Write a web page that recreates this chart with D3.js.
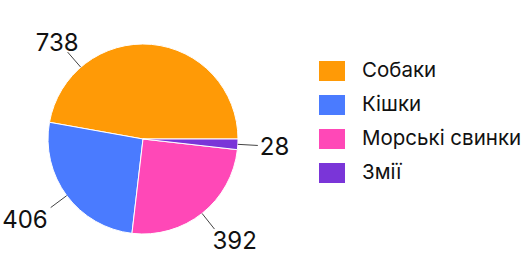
<!DOCTYPE html>
<html>
<head>
<meta charset="utf-8">
<script src="https://cdn.jsdelivr.net/npm/d3@7"></script>
<style>
  html, body { margin: 0; padding: 0; background: #fff; }
  svg { display: block; font-family: Inter, "Noto Sans", sans-serif; }
</style>
</head>
<body>
<div id="chart"></div>
<script>
const categories = ["Собаки", "Кішки", "Морські свинки", "Змії"];
const values = [738, 406, 392, 28];
const colors = ["#ff9a06", "#4a7bff", "#ff48b7", "#7a35d8"];

const width = 531, height = 279;
const cx = 143, cy = 139, radius = 95;

// the label of the big slice sits further round to the left
const labelTurn = { "Собаки": -46 };
const labelShiftX = { "Собаки": 14 };

const svg = d3.select("#chart").append("svg")
    .attr("width", width)
    .attr("height", height);

const data = categories.map((c, i) => ({ name: c, value: values[i], color: colors[i] }));

// slices run anticlockwise from 3 o'clock
const pie = d3.pie()
    .value(d => d.value)
    .sort(null)
    .startAngle(Math.PI / 2)
    .endAngle(Math.PI / 2 - 2 * Math.PI);

const arc = d3.arc().innerRadius(0).outerRadius(radius);

const g = svg.append("g").attr("transform", `translate(${cx},${cy})`);

const arcs = pie(data);

g.selectAll("path.slice")
    .data(arcs)
    .join("path")
    .attr("class", "slice")
    .attr("d", arc)
    .attr("fill", d => d.data.color)
    .attr("stroke", "#fff")
    .attr("stroke-width", 1);

const point = (a, r) => [Math.sin(a) * r, -Math.cos(a) * r];

arcs.forEach(d => {
    let a = (d.startAngle + d.endAngle) / 2;
    a += (labelTurn[d.data.name] || 0) * Math.PI / 180;
    const p0 = point(a, radius);
    const p1 = point(a, 115);
    g.append("line")
        .attr("x1", p0[0]).attr("y1", p0[1])
        .attr("x2", p1[0]).attr("y2", p1[1])
        .attr("stroke", "#444")
        .attr("stroke-width", 1);

    const s = Math.sin(a), c = -Math.cos(a);
    const right = s > 0;
    let tx = p1[0] + (right ? (c > 0.5 ? -2 : 2) : -3) + (labelShiftX[d.data.name] || 0);
    let ty;
    if (c < -0.5) ty = p1[1] - 1;          // text above line end
    else if (c > 0.5) ty = p1[1] + 20;     // text below line end
    else ty = p1[1] + 9 + c * 8;           // roughly centred
    g.append("text")
        .attr("x", tx)
        .attr("y", ty)
        .attr("text-anchor", right ? "start" : "end")
        .attr("font-size", 24)
        .attr("fill", "#111")
        .text(d.data.value);
});

// legend
const legend = svg.append("g").attr("transform", "translate(319,61)");
const row = legend.selectAll("g")
    .data(data)
    .join("g")
    .attr("transform", (d, i) => `translate(0,${i * 34})`);

row.append("rect")
    .attr("width", 26)
    .attr("height", 20)
    .attr("fill", d => d.color);

row.append("text")
    .attr("x", 43)
    .attr("y", 15.5)
    .attr("font-size", 20.5)
    .attr("fill", "#111")
    .text(d => d.name);
</script>
</body>
</html>
